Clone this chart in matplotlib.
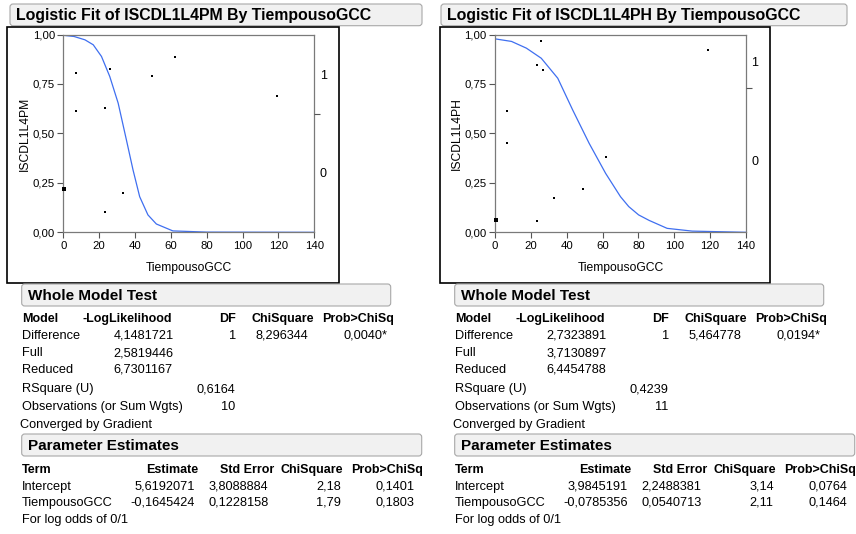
import matplotlib
matplotlib.use("Agg")
import matplotlib.pyplot as plt
from matplotlib.patches import FancyBboxPatch, Rectangle

plt.rcParams.update({
    "font.family": ["Liberation Sans", "DejaVu Sans"],
    "font.size": 9.2,
})

W, H = 856, 534

# ---- data ----
x_ticks = [0, 20, 40, 60, 80, 100, 120, 140]
y_ticks = [0.0, 0.25, 0.50, 0.75, 1.0]
y_ticklabels = ["0,00", "0,25", "0,50", "0,75", "1,00"]

pm_x = [0.4, 7.1, 7.1, 23.2, 23.2, 25.9, 33.2, 49.3, 62.1, 119.4]
pm_y = [0.219, 0.805, 0.614, 0.627, 0.103, 0.825, 0.199, 0.789, 0.886, 0.687]
pm_big = [0]
pm_curve_x = [0, 6, 12.1, 16.7, 21.3, 25.9, 30.6, 35.2, 38.9, 42.6, 47.2, 51.9, 61.1, 80, 140]
pm_curve_y = [0.996, 0.990, 0.973, 0.948, 0.889, 0.788, 0.653, 0.467, 0.315, 0.180, 0.088, 0.042,
              0.007, 0.001, 0.0]
pm_n0, pm_n = 6, 10

ph_x = [0.4, 6.9, 6.9, 23.2, 25.9, 26.9, 33.1, 23.2, 49.2, 61.9, 118.6]
ph_y = [0.062, 0.614, 0.452, 0.845, 0.966, 0.820, 0.174, 0.057, 0.219, 0.381, 0.921]
ph_big = [0]
ph_curve_x = [0, 9.2, 17.5, 25.8, 35.0, 43.3, 52.5, 61.7, 70.0, 74.6, 80.1, 86, 96, 110, 140]
ph_curve_y = [0.978, 0.965, 0.931, 0.880, 0.779, 0.619, 0.450, 0.298, 0.180, 0.130, 0.088,
              0.060, 0.020, 0.006, 0.0]
ph_n0, ph_n = 8, 11

titles = ["Logistic Fit of ISCDL1L4PM By TiempousoGCC",
          "Logistic Fit of ISCDL1L4PH By TiempousoGCC"]
ylabels = ["ISCDL1L4PM", "ISCDL1L4PH"]
xlabel = "TiempousoGCC"

wmt_cols = ["Model", "-LogLikelihood", "DF", "ChiSquare", "Prob>ChiSq"]
wmt_rows = ["Difference", "Full", "Reduced"]
pm_loglik = ["4,1481721", "2,5819446", "6,7301167"]
ph_loglik = ["2,7323891", "3,7130897", "6,4454788"]
pm_diff = ["1", "8,296344", "0,0040*"]
ph_diff = ["1", "5,464778", "0,0194*"]
pm_rsq, ph_rsq = "0,6164", "0,4239"
pm_obs, ph_obs = "10", "11"

pe_cols = ["Term", "Estimate", "Std Error", "ChiSquare", "Prob>ChiSq"]
pe_terms = ["Intercept", "TiempousoGCC"]
pm_est = [["5,6192071", "3,8088884", "2,18", "0,1401"],
          ["-0,1645424", "0,1228158", "1,79", "0,1803"]]
ph_est = [["3,9845191", "2,2488381", "3,14", "0,0764"],
          ["-0,0785356", "0,0540713", "2,11", "0,1464"]]

CURVE = "#3f6ff0"
BOX_FACE = "#f1f1f1"
BOX_EDGE = "#a8a8a8"
HEAD_FS = 9.0     # bold column headers
TITLE_FS = 11


def header(ov, x0, x1, y0, y1, text, tx, size):
    ov.add_patch(FancyBboxPatch((x0, y0), x1 - x0, y1 - y0,
                                boxstyle="round,pad=0,rounding_size=3",
                                fc=BOX_FACE, ec=BOX_EDGE, lw=0.8))
    ov.text(tx, (y0 + y1) / 2 + 0.5, text, fontsize=size, fontweight="bold",
            va="center", ha="left")


def plot_panel(fig, px0, xs, ys, big, cx, cy, n0, n, ylab):
    # axes area in pixels: x px0..px0+251, y 34.5..232.3
    ax = fig.add_axes([px0 / W, 1 - 232.3 / H, 251 / W, (232.3 - 34.5) / H])
    ax.plot(cx, cy, color=CURVE, lw=0.9, zorder=2)
    small = [i for i in range(len(xs)) if i not in big]
    ax.plot([xs[i] for i in small], [ys[i] for i in small], "s", color="black",
            ms=1.5, mew=0, zorder=3)
    ax.plot([xs[i] for i in big], [ys[i] for i in big], "s", color="black",
            ms=3.2, mew=0, zorder=3, clip_on=False)
    ax.set_xlim(0, 140)
    ax.set_ylim(0, 1)
    ax.set_xticks(x_ticks)
    ax.set_yticks(y_ticks)
    ax.set_yticklabels(y_ticklabels)
    ax.tick_params(length=4, width=0.8, color="#555555", labelsize=8.2, pad=2)
    for s in ax.spines.values():
        s.set_color("#7a7a7a")
        s.set_linewidth(0.9)
    ax.set_xlabel(xlabel, fontsize=8.7, labelpad=8)
    ax.set_ylabel(ylab, fontsize=8.7, labelpad=1)

    # response level axis on the right
    p0 = n0 / n
    ax2 = ax.twinx()
    ax2.set_ylim(0, 1)
    ax2.set_yticks([p0 / 2, (1 + p0) / 2])
    ax2.set_yticklabels(["0", "1"])
    ax2.tick_params(length=0, labelsize=9, pad=4)
    ax2.set_yticks([p0], minor=True)
    ax2.tick_params(which="minor", length=4, width=0.8, color="#555555")
    for s in ax2.spines.values():
        s.set_visible(False)
    return ax


def tables(ov, off, loglik, diff, rsq, obs, est):
    lx = 21.7 + off
    header(ov, 21.7 + off, 390.7 + off, 284, 306, "Whole Model Test", 28 + off, TITLE_FS)
    y = 319.3
    ov.text(lx, y, wmt_cols[0], fontweight="bold", va="center", fontsize=HEAD_FS)
    ov.text(82.7 + off, y, wmt_cols[1], fontweight="bold", va="center", fontsize=HEAD_FS)
    for c, xr in zip(wmt_cols[2:], [236, 314, 394]):
        ov.text(xr + off, y, c, fontweight="bold", va="center", ha="right", fontsize=HEAD_FS)
    for row, val, yy in zip(wmt_rows, loglik, [335.7, 353, 370]):
        ov.text(lx, yy, row, va="center")
        ov.text(113.3 + off, yy, val, va="center")
    ov.text(236 + off, 335.7, diff[0], va="center", ha="right")
    ov.text(308.5 + off, 335.7, diff[1], va="center", ha="right")
    ov.text(388 + off, 335.7, diff[2], va="center", ha="right")
    ov.text(lx, 389.3, "RSquare (U)", va="center")
    ov.text(235 + off, 389.3, rsq, va="center", ha="right")
    ov.text(lx, 406.7, "Observations (or Sum Wgts)", va="center")
    ov.text(235 + off, 406.7, obs, va="center", ha="right")
    ov.text(20 + off, 425, "Converged by Gradient", va="center")

    header(ov, 21.7 + off, 421.7 + off, 434, 456, "Parameter Estimates", 28 + off, TITLE_FS)
    y = 470
    ov.text(lx, y, pe_cols[0], fontweight="bold", va="center", fontsize=HEAD_FS)
    for c, xr in zip(pe_cols[1:], [198.3, 274.3, 343.3, 423.3]):
        ov.text(xr + off, y, c, fontweight="bold", va="center", ha="right", fontsize=HEAD_FS)
    for term, vals, yy in zip(pe_terms, est, [486.7, 502.7]):
        ov.text(lx, yy, term, va="center")
        for v, xr in zip(vals, [195, 268.5, 340.7, 414.3]):
            ov.text(xr + off, yy, v, va="center", ha="right")
    ov.text(lx, 520, "For log odds of 0/1", va="center")


fig = plt.figure(figsize=(W / 100, H / 100), dpi=100)
ov = fig.add_axes([0, 0, 1, 1], zorder=0)
ov.set_xlim(0, W)
ov.set_ylim(H, 0)
ov.axis("off")

# left panel
header(ov, 10, 422, 4, 25.7, titles[0], 16, 11.4)
ov.add_patch(Rectangle((7, 27), 332, 256, fc="white", ec="black", lw=1.2))
tables(ov, 0, pm_loglik, pm_diff, pm_rsq, pm_obs, pm_est)

# right panel
header(ov, 441, 847, 4, 25.7, titles[1], 447, 11.4)
ov.add_patch(Rectangle((440, 27), 330, 256, fc="white", ec="black", lw=1.2))
tables(ov, 433, ph_loglik, ph_diff, ph_rsq, ph_obs, ph_est)

plot_panel(fig, 63.3, pm_x, pm_y, pm_big, pm_curve_x, pm_curve_y, pm_n0, pm_n, ylabels[0])
plot_panel(fig, 495, ph_x, ph_y, ph_big, ph_curve_x, ph_curve_y, ph_n0, ph_n, ylabels[1])

fig.savefig("out.png", dpi=100)
